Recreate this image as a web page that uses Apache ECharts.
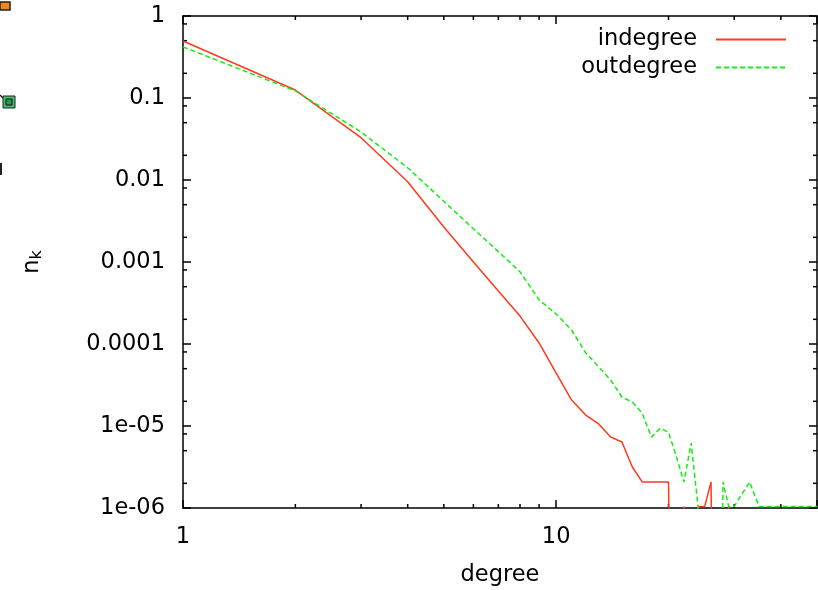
<!DOCTYPE html>
<html>
<head>
<meta charset="utf-8">
<script src="https://cdn.jsdelivr.net/npm/echarts@6/dist/echarts.min.js"></script>
<style>
html, body { margin: 0; padding: 0; background: #fff; }
#chart { width: 818px; height: 590px; }
</style>
</head>
<body>
<div id="chart"></div>
<script>
// degree k
var degrees = [1, 2, 3, 4, 5, 6, 7, 8, 9, 10,
    11, 12, 13, 14, 15, 16, 17, 18, 19, 20,
    21, 22, 23, 24, 25, 26, 27, 28, 29, 30,
    31, 32, 33, 34, 35, 36, 37, 38, 39, 40,
    41, 42, 43, 44, 45, 46, 47, 48, 49, 50];
// ZERO = no node of that degree (falls below the axis, line drops to the border like gnuplot)
var ZERO = 1e-12;
var indegree = [0.495, 0.125, 0.0328, 0.0095, 0.00267, 0.00100, 0.000443, 0.000219, 0.000103, 4.4e-5,
    2.07e-5, 1.36e-5, 1.06e-5, 7.34e-6, 6.38e-6, 3.16e-6, 2.08e-6, 2.08e-6, 2.08e-6, 2.08e-6,
    ZERO, 1.04e-6, ZERO, 1.04e-6, 1.04e-6, 2.08e-6, ZERO, ZERO, 1.04e-6, ZERO,
    ZERO, ZERO, ZERO, ZERO, ZERO, ZERO, ZERO, ZERO, ZERO, ZERO,
    ZERO, ZERO, ZERO, ZERO, ZERO, ZERO, ZERO, ZERO, ZERO, ZERO];
var outdegree = [0.42, 0.122, 0.0385, 0.0141, 0.0055, 0.00254, 0.00134, 0.00076, 0.000345, 0.000232,
    0.000148, 7.8e-5, 5.25e-5, 3.63e-5, 2.26e-5, 1.96e-5, 1.44e-5, 7.3e-6, 9.4e-6, 8.4e-6,
    4.2e-6, 2.08e-6, 6.2e-6, 1.04e-6, ZERO, ZERO, ZERO, 2.08e-6, 1.04e-6, 1.04e-6,
    1.34e-6, 1.66e-6, 2.08e-6, 1.45e-6, 1.04e-6, 1.04e-6, 1.04e-6, 1.04e-6, 1.04e-6, 1.04e-6,
    1.04e-6, 1.04e-6, 1.04e-6, 1.04e-6, 1.04e-6, 1.04e-6, 1.04e-6, 1.04e-6, 1.04e-6, 1.04e-6];
var xTickLabels = {1: '1', 10: '10'};
var yTickLabels = ['1', '0.1', '0.01', '0.001', '0.0001', '1e-05', '1e-06'];
var xMinorMult = [2, 3, 4, 5, 6, 7, 8, 9];
var yMinorMult = [2, 5, 8];

var FONT = '"DejaVu Sans", Verdana, sans-serif';
var FS = 22.5;
var RED = '#ff3a1c';
var GREEN = '#12ee12';

var chart = echarts.init(document.getElementById('chart'));

function pairs(ys) {
    return degrees.map(function (k, i) { return [k, ys[i]]; });
}

var tick = { show: true, inside: true, length: 8, lineStyle: { color: '#000', width: 1.5 } };
var axLine = { show: true, onZero: false, lineStyle: { color: '#000', width: 1.5 } };

function xAxis(pos, labels) {
    return {
        type: 'log', position: pos, min: 1, max: 50,
        axisLine: axLine, axisTick: tick, splitLine: { show: false },
        name: labels ? 'degree' : '', nameLocation: 'middle', nameGap: 56,
        nameTextStyle: { fontFamily: FONT, fontSize: FS, color: '#000' },
        axisLabel: {
            show: labels, margin: 18, fontFamily: FONT, fontSize: FS, color: '#000',
            formatter: function (v) { return xTickLabels[Math.round(v)] || ''; }
        }
    };
}
function yAxis(pos, labels) {
    return {
        type: 'log', position: pos, min: 1e-6, max: 1, splitNumber: 6,
        axisLine: axLine, axisTick: tick, splitLine: { show: false },
        name: labels ? 'n{sub|k}' : '', nameLocation: 'middle', nameGap: 138, nameRotate: 90,
        nameTextStyle: {
            fontFamily: FONT, fontSize: FS, color: '#000',
            rich: { sub: { fontFamily: FONT, fontSize: 16, color: '#000', verticalAlign: 'bottom', padding: [10, 0, 0, 0] } }
        },
        axisLabel: {
            show: labels, margin: 18, fontFamily: FONT, fontSize: FS, color: '#000',
            formatter: function (v) { return yTickLabels[Math.round(-Math.log10(v))] || ''; }
        }
    };
}

chart.setOption({
    animation: false,
    backgroundColor: '#fff',
    grid: { left: 183, right: 1, top: 16, bottom: 82, containLabel: false, outerBoundsMode: 'none' },
    legend: {
        orient: 'vertical', right: 26, top: 23, align: 'right',
        itemWidth: 70, itemHeight: 14, itemGap: 5,
        itemStyle: { opacity: 0 },
        textStyle: { fontFamily: FONT, fontSize: FS, lineHeight: 22, color: '#000', padding: [0, 14, 0, 0] },
        data: ['indegree', 'outdegree']
    },
    xAxis: [xAxis('bottom', true), xAxis('top', false)],
    yAxis: [yAxis('left', true), yAxis('right', false)],
    series: [
        {
            name: 'indegree', type: 'line', data: pairs(indegree), symbol: 'none',
            clip: true, lineStyle: { color: RED, width: 1.5 }, itemStyle: { color: RED }
        },
        {
            name: 'outdegree', type: 'line', data: pairs(outdegree), symbol: 'none',
            clip: true, lineStyle: { color: GREEN, width: 1.5, type: [5, 3] }, itemStyle: { color: GREEN }
        }
    ]
});

// gnuplot style minor ticks on all four sides
var gx0 = chart.convertToPixel({ xAxisIndex: 0 }, 1);
var gx1 = chart.convertToPixel({ xAxisIndex: 0 }, 50);
var gy0 = chart.convertToPixel({ yAxisIndex: 0 }, 1);
var gy1 = chart.convertToPixel({ yAxisIndex: 0 }, 1e-6);
var g = [];
function seg(x1, y1, x2, y2) {
    g.push({ type: 'line', silent: true, shape: { x1: x1, y1: y1, x2: x2, y2: y2 }, style: { stroke: '#000', lineWidth: 1.5 } });
}
[1, 10].forEach(function (d) {
    xMinorMult.forEach(function (m) {
        var v = m * d;
        if (v >= 50) return;
        var px = chart.convertToPixel({ xAxisIndex: 0 }, v);
        seg(px, gy1, px, gy1 - 4);
        seg(px, gy0, px, gy0 + 4);
    });
});
[1e-6, 1e-5, 1e-4, 1e-3, 1e-2, 1e-1].forEach(function (d) {
    yMinorMult.forEach(function (m) {
        var py = chart.convertToPixel({ yAxisIndex: 0 }, m * d);
        seg(gx0, py, gx0 + 4, py);
        seg(gx1, py, gx1 - 4, py);
    });
});
// fragments of the neighbouring figure cut off at the left edge
g.push({ type: 'rect', shape: { x: 0, y: 2, width: 10, height: 8 }, style: { fill: '#ec8a12', stroke: '#222', lineWidth: 1.5 } });
g.push({ type: 'line', shape: { x1: 0, y1: 95, x2: 5, y2: 100 }, style: { stroke: '#222', lineWidth: 1.5 } });
g.push({ type: 'rect', shape: { x: 3, y: 96, width: 12, height: 12 }, style: { fill: '#3cc070', stroke: '#222', lineWidth: 1 } });
g.push({ type: 'rect', shape: { x: 6, y: 99, width: 6, height: 6 }, style: { fill: '#2a9a55', stroke: '#111', lineWidth: 1 } });
g.push({ type: 'rect', shape: { x: 0, y: 163, width: 2, height: 12 }, style: { fill: '#222' } });
chart.setOption({ graphic: g });
</script>
</body>
</html>
